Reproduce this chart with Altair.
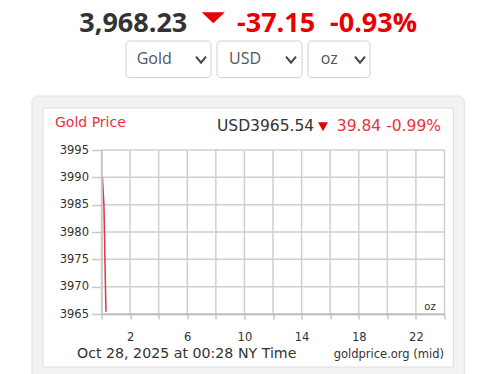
import altair as alt
import pandas as pd

# ---- data ----
hours = [0.06, 0.17, 0.31]
prices = [3990.1, 3984.9, 3965.4]
y_ticks = [3965, 3970, 3975, 3980, 3985, 3990, 3995]
x_ticks = [0, 2, 4, 6, 8, 10, 12, 14, 16, 18, 20, 22, 24]

headline_price = "3,968.23"
headline_change = "-37.15"
headline_pct = "-0.93%"
dropdowns = ["Gold", "USD", "oz"]
chart_title = "Gold Price"
chart_price = "USD3965.54"
chart_change = "39.84 -0.99%"
unit_label = "oz"
timestamp = "Oct 28, 2025 at 00:28 NY Time"
source = "goldprice.org (mid)"

df = pd.DataFrame({"hour": hours, "price": prices})
gx = pd.DataFrame({"hour": x_ticks})
gy = pd.DataFrame({"price": y_ticks})
one = pd.DataFrame({"k": [0]})

RED = "#e60000"
CRED = "#e8323c"
DARK = "#333333"
GRID = "#cfcfcf"
OS = "Open Sans"
DV = "DejaVu Sans"

def X():
    return alt.X("hour:Q", scale=alt.Scale(domain=[0, 24], nice=False, zero=False),
                 axis=alt.Axis(values=x_ticks, labelExpr="datum.value % 4 == 2 ? datum.label : ''",
                               title=None, grid=False, domainColor="#b8b8b8", domainWidth=1.5, zindex=1,
                               tickColor="#c8c8c8", tickWidth=1.5, tickSize=5, labelPadding=12, labelFont=DV,
                               labelFontSize=11.5, labelColor=DARK, labelFlush=False))

def Y():
    return alt.Y("price:Q", scale=alt.Scale(domain=[3965, 3995], nice=False, zero=False),
                 axis=alt.Axis(values=y_ticks, title=None, grid=False, zindex=1,
                               domainColor="#c8c8c8", domainWidth=1.5, tickColor="#c8c8c8",
                               tickWidth=1.5, tickSize=10,
                               labelPadding=3, labelFont=DV, labelFontSize=11.5, labelColor=DARK,
                               labelFlush=False, format="d"))

def box(x, x2, y, y2, fill, stroke, r):
    return alt.Chart(one).mark_rect(fill=fill, stroke=stroke, strokeWidth=1, cornerRadius=r).encode(
        x=alt.value(x), x2=alt.value(x2), y=alt.value(y), y2=alt.value(y2))

def txt(t, x, y, size, color, font, weight="normal", align="left", baseline="alphabetic"):
    return alt.Chart(one).mark_text(text=t, fontSize=size, color=color, font=font, fontWeight=weight,
                                    align=align, baseline=baseline).encode(x=alt.value(x), y=alt.value(y))

def sym(shape, x, y, size, color, filled=True, sw=0):
    kw = dict(shape=shape, size=size, opacity=1)
    if filled:
        kw.update(filled=True, fill=color, strokeWidth=0)
    else:
        kw.update(filled=False, stroke=color, strokeWidth=sw)
    return alt.Chart(one).mark_point(**kw).encode(x=alt.value(x), y=alt.value(y))

layers = []
# panel
layers.append(box(-69.5, 362.8, -54, 235, "#f2f2f2", "#e2e2e2", 6))
layers.append(box(-58.5, 351.8, -42, 217, "#ffffff", "#dddddd", 0))

# headline
layers.append(txt(headline_price, 85.8, -118.5, 27, DARK, OS, "bold", align="right"))
layers.append(sym("M-1,-0.478L1,-0.478L0,0.478Z", 111.8, -132.2, 529, RED))
layers.append(txt(headline_change, 135.5, -118.5, 27, RED, OS, "bold"))
layers.append(txt(headline_pct, 228.5, -118.5, 27, RED, OS, "bold"))

# dropdowns
dd_x = [(24.5, 109.5), (115.5, 200.5), (206.5, 268.5)]
dd_tx = [35.2, 127.5, 219.2]
dd_cx = [99.5, 189.5, 258.5]
for (a, b), t, tx, cx in zip(dd_x, dropdowns, dd_tx, dd_cx):
    layers.append(box(a, b, -109, -72.3, "#ffffff", "#cfcfcf", 4))
    layers.append(txt(t, tx, -91, 16, "#555555", OS, baseline="middle"))
    layers.append(sym("M-1,-0.6L0,0.6L1,-0.6", cx, -90.3, 100, "#444444", filled=False, sw=2))

# chart header
layers.append(txt(chart_title, -46.5, -22.7, 14, CRED, DV))
layers.append(txt(chart_price, 115.5, -19, 15.5, DARK, DV))
layers.append(sym("M-1,-0.9L1,-0.9L0,0.9Z", 221.5, -23.3, 100, RED))
layers.append(txt(chart_change, 339.5, -19, 15.5, CRED, DV, align="right"))

# grid
layers.append(alt.Chart(gx).mark_rule(color=GRID, strokeWidth=1.5).encode(x=X()))
layers.append(alt.Chart(gy).mark_rule(color=GRID, strokeWidth=1.5).encode(y=Y()))

# main line
layers.append(alt.Chart(df).mark_line(color=CRED, strokeWidth=1.5).encode(x=X(), y=Y()))

# footer texts
layers.append(txt(unit_label, 328.5, 157.3, 10, DARK, DV, align="center", baseline="middle"))
layers.append(txt(timestamp, -24.5, 208.3, 14.2, DARK, DV))
layers.append(txt(source, 342.5, 208, 11.5, DARK, DV, align="right"))

chart = alt.layer(*layers).properties(
    width=343, height=164,
    autosize=alt.AutoSizeParams(type="none"),
    padding={"left": 101.5, "top": 150, "right": 51.5, "bottom": 60},
    background="#ffffff",
).configure_view(stroke=None)

chart.save("out.html", embed_options={"renderer": "svg", "actions": False})
